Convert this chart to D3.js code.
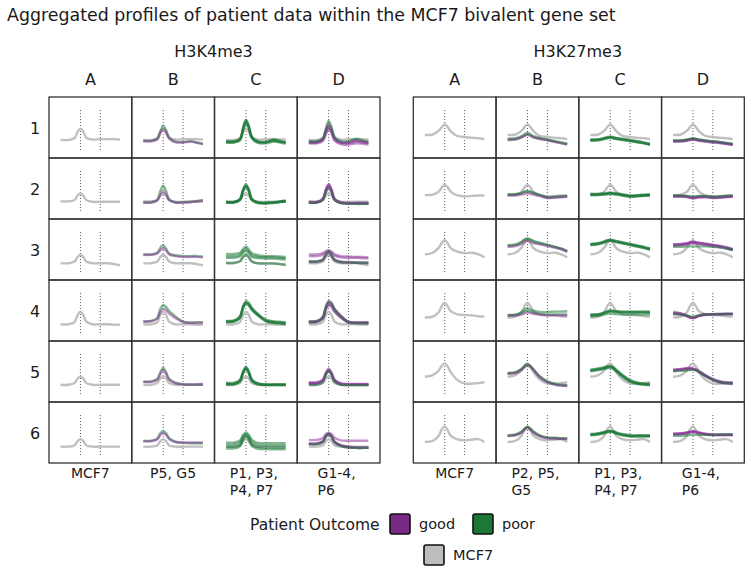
<!DOCTYPE html>
<html><head><meta charset="utf-8">
<script src="https://cdn.jsdelivr.net/npm/d3@7"></script>
<style>body{margin:0;background:#fff}svg{display:block}text{font-family:"DejaVu Sans",Verdana,sans-serif;fill:#1a1a1a}</style>
</head><body><svg id="chart" width="754" height="574"></svg>
<script>
// ---------------- DATA ----------------
const chartTitle = "Aggregated profiles of patient data within the MCF7 bivalent gene set";
const panels = ["H3K4me3", "H3K27me3"];
const columns = ["A", "B", "C", "D"];
const rows = ["1", "2", "3", "4", "5", "6"];
const bottomLabelsH3K4me3 = ["MCF7", "P5, G5", "P1, P3,\nP4, P7", "G1-4,\nP6"];
const bottomLabelsH3K27me3 = ["MCF7", "P2, P5,\nG5", "P1, P3,\nP4, P7", "G1-4,\nP6"];
const goodPatients = ["G1", "G2", "G3", "G4", "G5"];
const outcomes = ["good", "poor"];
// profile bins: upstream (0-1), gene body (1-2), downstream (2-3)
const binPositions = [0, 0.4, 0.7, 0.86, 1.0, 1.14, 1.3, 1.6, 2.0, 2.4, 2.7, 3.0];
const boundaries = [1, 2];

// MCF7 profiles, one per row
const mcf7_H3K4me3 = [
  [24,24,28,44,51,44,29,25,26,26,26,25],
  [23,23,26,37,42,37,26,22,22,22,22,22],
  [21,21,25,36,41,36,25,21,21,21,19,16],
  [21,21,26,43,51,43,27,21,21,21,20,20],
  [22,22,26,37,41,37,26,22,22,22,22,22],
  [20,20,23,33,38,33,23,20,20,20,20,20]
];
const mcf7_H3K27me3 = [
  [36,37,46,55,61,55,45,34,31,29,28,26],
  [38,39,46,57,62,57,46,38,35,36,37,37],
  [42,46,58,70,76,69,57,49,45,46,42,35],
  [37,39,50,65,72,64,52,45,43,42,40,39],
  [41,45,56,68,73,66,52,35,25,25,26,28],
  [31,34,46,62,68,60,46,38,35,37,38,31]
];

// H3K4me3 patient profiles (one object per row)
const h3k4_B = [
  {P5:[22,22,27,45,58,48,30,20,19,21,18,15], G5:[21,21,25,40,49,41,27,19,18,20,17,14]},
  {P5:[21,21,27,48,60,48,28,21,21,22,24,26], G5:[20,20,25,38,47,39,26,20,20,21,23,25]},
  {P5:[42,42,46,58,64,56,44,40,38,38,38,37], G5:[41,41,44,52,56,51,42,38,36,36,36,35]},
  {P5:[28,29,36,58,66,62,52,40,27,25,26,26], G5:[27,28,34,50,57,54,46,36,26,24,24,24]},
  {P5:[30,30,36,52,62,52,36,27,23,22,22,22], G5:[29,29,34,48,57,48,34,26,23,23,23,24]},
  {P5:[34,34,39,52,57,52,40,32,29,28,28,28], G5:[33,33,37,48,52,48,38,31,30,30,30,30]}
];
const h3k4_C = [
  {P1:[19,19,25,50,68,55,30,19,18,22,20,17], P3:[20,20,26,52,70,57,31,20,19,24,21,18], P4:[18,18,23,46,63,51,28,17,16,20,18,15], P7:[21,21,27,54,72,58,32,21,20,25,22,19]},
  {P1:[21,21,28,50,61,50,28,20,19,20,22,24], P3:[22,22,29,52,63,52,29,21,20,21,23,25], P4:[20,20,26,47,58,47,26,19,18,19,21,23], P7:[21,21,27,49,60,49,27,20,19,20,22,24]},
  {P1:[43,43,46,55,60,54,45,40,38,38,37,36], P3:[38,38,41,50,55,49,40,36,35,35,34,33], P4:[34,34,37,46,50,45,36,33,32,32,31,30], P7:[22,22,26,36,41,35,25,21,20,20,19,18]},
  {P1:[28,29,38,63,73,69,58,44,30,26,25,24], P3:[26,27,36,60,70,66,55,42,28,24,23,22], P4:[29,30,40,65,76,72,60,46,32,28,27,26], P7:[27,28,37,61,71,67,56,43,29,25,24,21]},
  {P1:[25,25,32,52,62,52,33,24,22,22,22,22], P3:[23,23,30,50,60,50,31,23,21,21,21,21], P4:[27,27,34,55,65,55,35,26,23,23,23,23], P7:[24,24,31,51,61,51,32,24,22,22,22,22]},
  {P1:[30,30,35,48,54,48,36,29,28,28,28,28], P3:[25,25,30,44,50,44,31,24,23,23,23,23], P4:[20,20,25,40,47,40,26,19,18,18,18,18], P7:[16,16,21,36,44,36,22,15,14,14,14,14]}
];
const h3k4_D = [
  {G1:[20,20,26,48,62,50,28,19,19,24,21,18], G2:[18,18,24,42,55,45,25,17,16,20,18,16], G3:[16,16,21,38,50,41,22,14,13,16,15,13], G4:[19,19,25,45,58,47,27,18,18,22,20,17], P6:[21,21,28,52,69,55,31,21,21,27,23,20]},
  {G1:[22,22,29,52,64,52,29,21,19,19,19,19], G2:[21,21,28,49,60,49,28,20,18,18,18,18], G3:[20,20,27,47,58,47,27,19,18,18,18,18], G4:[21,21,28,50,62,50,28,20,19,19,19,19], P6:[20,20,26,45,54,45,26,19,18,17,17,17]},
  {G1:[42,42,45,50,52,49,42,38,37,36,36,35], G2:[38,38,41,47,49,46,39,35,34,34,33,33], G3:[26,26,30,42,48,40,30,25,24,23,23,23], G4:[24,24,28,40,46,38,28,23,22,22,21,21], P6:[25,25,29,42,50,41,29,24,23,22,22,22]},
  {G1:[28,29,38,64,76,72,58,42,27,25,25,25], G2:[26,27,35,60,72,68,55,40,25,24,24,24], G3:[27,28,36,58,68,64,52,38,26,25,25,26], G4:[25,26,34,56,66,62,50,37,25,24,24,24], P6:[27,28,37,62,74,70,56,41,26,24,23,23]},
  {G1:[27,27,33,50,58,50,33,25,23,23,23,23], G2:[26,26,32,48,56,48,32,24,22,22,22,22], G3:[28,28,34,51,60,51,34,26,24,24,24,24], G4:[25,25,31,47,55,47,31,23,22,22,22,22], P6:[22,22,28,46,56,46,29,22,21,21,21,21]},
  {G1:[36,36,40,50,53,50,41,35,34,34,34,34], G2:[28,28,33,46,51,45,32,24,20,18,18,18], G3:[27,27,32,45,50,44,31,23,19,17,17,17], G4:[26,26,31,44,49,43,30,22,18,17,17,17], P6:[26,26,31,44,50,44,31,22,18,17,17,17]}
];

// H3K27me3 patient profiles (one object per row)
const h3k27_B = [
  {P2:[24,25,30,35,38,35,31,27,24,20,17,14], P5:[27,28,33,38,41,38,33,29,25,21,18,15], G5:[25,26,30,34,36,34,30,27,23,19,16,13]},
  {P2:[39,39,42,45,46,45,42,38,32,33,34,35], P5:[40,40,43,47,48,47,43,39,33,34,35,36], G5:[37,37,39,41,42,41,39,36,31,32,33,34]},
  {P2:[64,66,72,78,80,78,74,70,65,60,56,50], P5:[62,64,70,76,78,76,72,68,64,59,55,49], G5:[60,62,67,72,74,72,69,66,62,58,54,48]},
  {P2:[43,44,50,56,59,56,53,50,50,51,51,52], P5:[42,43,47,51,53,51,48,45,44,44,44,44], G5:[41,42,44,47,49,48,46,44,42,42,42,42]},
  {P2:[49,51,59,66,70,66,58,42,29,23,21,20], P5:[50,52,60,67,71,67,59,43,30,24,22,21], G5:[48,50,57,64,68,64,57,41,28,22,20,19]},
  {P2:[46,48,55,62,66,62,55,46,41,40,39,39], P5:[47,49,56,63,67,63,56,47,42,41,40,40], G5:[45,47,53,60,64,60,53,45,40,39,38,38]}
];
const h3k27_C = [
  {P1:[24,25,28,30,31,30,28,26,23,20,17,14], P3:[25,26,29,31,32,31,29,27,24,21,18,15], P4:[23,24,27,29,30,29,27,25,22,19,16,13], P7:[22,23,26,28,29,28,26,24,21,18,16,12]},
  {P1:[40,40,41,42,43,42,41,39,36,37,38,39], P3:[39,39,40,41,42,41,40,38,35,36,37,38], P4:[41,41,42,43,44,43,42,40,37,38,39,40], P7:[38,38,39,40,41,40,39,37,34,35,36,37]},
  {P1:[66,68,72,75,76,75,73,70,66,62,59,55], P3:[64,66,70,73,74,73,71,68,64,60,57,53], P4:[67,69,73,76,77,76,74,71,67,63,60,56], P7:[65,67,71,74,75,74,72,69,65,61,58,54]},
  {P1:[43,44,48,51,53,52,51,50,50,50,50,50], P3:[44,45,49,52,54,53,52,51,51,51,51,51], P4:[40,41,44,46,47,46,45,44,44,44,44,44], P7:[42,43,47,50,52,51,50,49,49,49,49,48]},
  {P1:[57,60,63,65,66,63,57,45,32,26,24,23], P3:[55,58,61,63,64,61,55,43,30,25,23,22], P4:[58,61,64,66,67,64,58,46,33,27,25,24], P7:[54,57,60,62,63,60,54,42,29,24,22,21]},
  {P1:[49,51,54,56,57,56,53,49,46,46,46,46], P3:[48,50,53,55,56,55,52,48,45,45,45,45], P4:[50,52,55,57,58,57,54,50,47,47,47,47], P7:[47,49,52,54,55,54,51,47,44,44,44,44]}
];
const h3k27_D = [
  {G1:[22,22,24,26,27,26,24,22,20,18,16,14], G2:[21,21,23,25,26,25,23,21,19,17,15,13], G3:[20,20,22,24,25,24,22,20,18,16,14,12], G4:[22,22,24,25,26,25,24,22,20,18,16,13], P6:[23,23,25,27,28,27,25,23,21,19,17,15]},
  {G1:[36,36,35,34,33,34,35,35,33,34,35,36], G2:[35,35,34,32,31,32,33,34,32,33,34,35], G3:[34,34,33,31,30,31,32,33,31,32,33,34], G4:[36,36,35,33,32,33,34,34,32,33,34,35], P6:[37,37,36,35,35,35,36,36,34,35,36,37]},
  {G1:[66,67,69,71,72,71,70,68,65,62,59,55], G2:[64,65,67,69,70,69,68,66,63,60,57,53], G3:[65,66,68,70,71,70,69,67,64,61,58,54], G4:[63,64,66,68,69,68,67,65,62,59,56,52], P6:[60,60,61,61,61,61,61,61,60,58,56,53]},
  {G1:[51,47,41,37,35,37,41,44,45,45,45,45], G2:[47,45,40,37,36,38,41,44,45,45,46,46], G3:[46,44,40,37,36,38,41,43,44,44,45,45], G4:[48,46,41,38,37,39,42,44,45,46,46,46], P6:[45,44,42,40,39,40,42,44,45,45,45,45]},
  {G1:[57,59,61,61,60,58,54,45,35,29,27,26], G2:[56,58,60,60,59,57,53,44,34,28,26,25], G3:[58,60,62,62,61,59,55,46,36,30,28,27], G4:[55,57,59,59,58,56,52,43,33,27,25,24], P6:[54,55,56,57,58,57,53,44,34,28,26,25]},
  {G1:[50,51,53,55,56,55,53,50,48,48,48,48], G2:[49,50,52,54,55,54,52,49,47,47,47,47], G3:[51,52,54,56,57,56,54,51,49,49,49,49], G4:[50,51,53,54,55,54,52,50,48,48,48,48], P6:[46,46,47,48,48,48,48,48,48,49,49,49]}
];

// ---------------- DRAWING ----------------
const colors = {good: "#762a83", poor: "#1b7837", MCF7: "#bdbdbd"};
const svg = d3.select("#chart");
svg.append("rect").attr("width", 754).attr("height", 574).attr("fill", "#fff");

svg.append("text").attr("x", 7).attr("y", 21).style("font-size", "17.4px").text(chartTitle);

const panelDefs = [
  {name: panels[0], x0: 49, x1: 380, mcf7: mcf7_H3K4me3, groups: [null, h3k4_B, h3k4_C, h3k4_D], labels: bottomLabelsH3K4me3, rowLabels: true},
  {name: panels[1], x0: 413.3, x1: 744.3, mcf7: mcf7_H3K27me3, groups: [null, h3k27_B, h3k27_C, h3k27_D], labels: bottomLabelsH3K27me3, rowLabels: false}
];
const gridTop = 97, gridBottom = 463;
const yBand = d3.scaleBand().domain(rows).range([gridTop, gridBottom]);

panelDefs.forEach(p => {
  const xBand = d3.scaleBand().domain(columns).range([p.x0, p.x1]);
  const g = svg.append("g");
  g.append("text").attr("x", (p.x0 + p.x1) / 2 - 1).attr("y", 57).attr("text-anchor", "middle")
    .style("font-size", "16px").text(p.name);
  columns.forEach(c => {
    g.append("text").attr("x", xBand(c) + xBand.bandwidth() / 2).attr("y", 85)
      .attr("text-anchor", "middle").style("font-size", "16px").text(c);
  });
  if (p.rowLabels) {
    rows.forEach(r => {
      g.append("text").attr("x", 35).attr("y", yBand(r) + yBand.bandwidth() / 2 + 6)
        .attr("text-anchor", "middle").style("font-size", "16px").text(r);
    });
  }
  columns.forEach((c, ci) => {
    rows.forEach((r, ri) => {
      const cx = xBand(c), cy = yBand(r), w = xBand.bandwidth(), h = yBand.bandwidth();
      const xs = d3.scaleLinear().domain([0, 3]).range([cx + 0.14 * w, cx + 0.86 * w]);
      const ys = d3.scaleLinear().domain([0, 100]).range([cy + 0.87 * h, cy + 0.18 * h]);
      const cell = g.append("g");
      cell.append("rect").attr("x", cx).attr("y", cy).attr("width", w).attr("height", h)
        .attr("fill", "#fff");
      boundaries.forEach(b => {
        cell.append("line").attr("x1", xs(b)).attr("x2", xs(b)).attr("y1", ys(0)).attr("y2", ys(100))
          .attr("stroke", "#555").attr("stroke-width", 1).attr("stroke-dasharray", "1,2");
      });
      const line = d3.line().x((d, i) => xs(binPositions[i])).y(d => ys(d))
        .curve(d3.curveCatmullRom.alpha(0.5));
      cell.append("path").attr("d", line(p.mcf7[ri])).attr("fill", "none")
        .attr("stroke", colors.MCF7).attr("stroke-width", 2.4).attr("opacity", 0.95);
      const grp = p.groups[ci];
      if (grp) {
        const obj = grp[ri];
        Object.keys(obj).forEach(pat => {
          const outcome = goodPatients.includes(pat) ? "good" : "poor";
          cell.append("path").attr("d", line(obj[pat])).attr("fill", "none")
            .attr("stroke", outcome === "good" ? "#8e3a9c" : colors.poor)
            .attr("stroke-width", 2.4).attr("opacity", 0.55);
        });
      }
    });
  });
  // cell borders
  columns.forEach(c => rows.forEach(r => {
    g.append("rect").attr("x", xBand(c)).attr("y", yBand(r)).attr("width", xBand.bandwidth())
      .attr("height", yBand.bandwidth()).attr("fill", "none").attr("stroke", "#333").attr("stroke-width", 1.3);
  }));
  // bottom labels
  columns.forEach((c, ci) => {
    const lines = p.labels[ci].split("\n");
    const t = g.append("text").style("font-size", "14px");
    lines.forEach((ln, li) => {
      t.append("tspan").attr("y", 478 + li * 16.5).text(ln);
    });
    const center = xBand(c) + xBand.bandwidth() / 2;
    if (lines.length === 1) {
      t.attr("text-anchor", "middle").select("tspan").attr("x", center);
    } else {
      let maxW = 0;
      t.selectAll("tspan").each(function () { maxW = Math.max(maxW, this.getComputedTextLength()); });
      t.selectAll("tspan").attr("x", center - maxW / 2 - 2);
    }
  });
});

// legend
const legend = svg.append("g");
legend.append("text").attr("x", 250).attr("y", 530).style("font-size", "15.5px").text("Patient Outcome");
const legendItems = [
  {key: outcomes[0], label: "good", x: 390, y: 514},
  {key: outcomes[1], label: "poor", x: 473, y: 514},
  {key: "MCF7", label: "MCF7", x: 424, y: 545}
];
legendItems.forEach(it => {
  legend.append("rect").attr("x", it.x).attr("y", it.y).attr("width", 20).attr("height", 20)
    .attr("rx", 2).attr("fill", colors[it.key]).attr("stroke", "#111").attr("stroke-width", 1.6);
  legend.append("text").attr("x", it.x + 29).attr("y", it.y + 15).style("font-size", "14.5px").text(it.label);
});
</script></body></html>
